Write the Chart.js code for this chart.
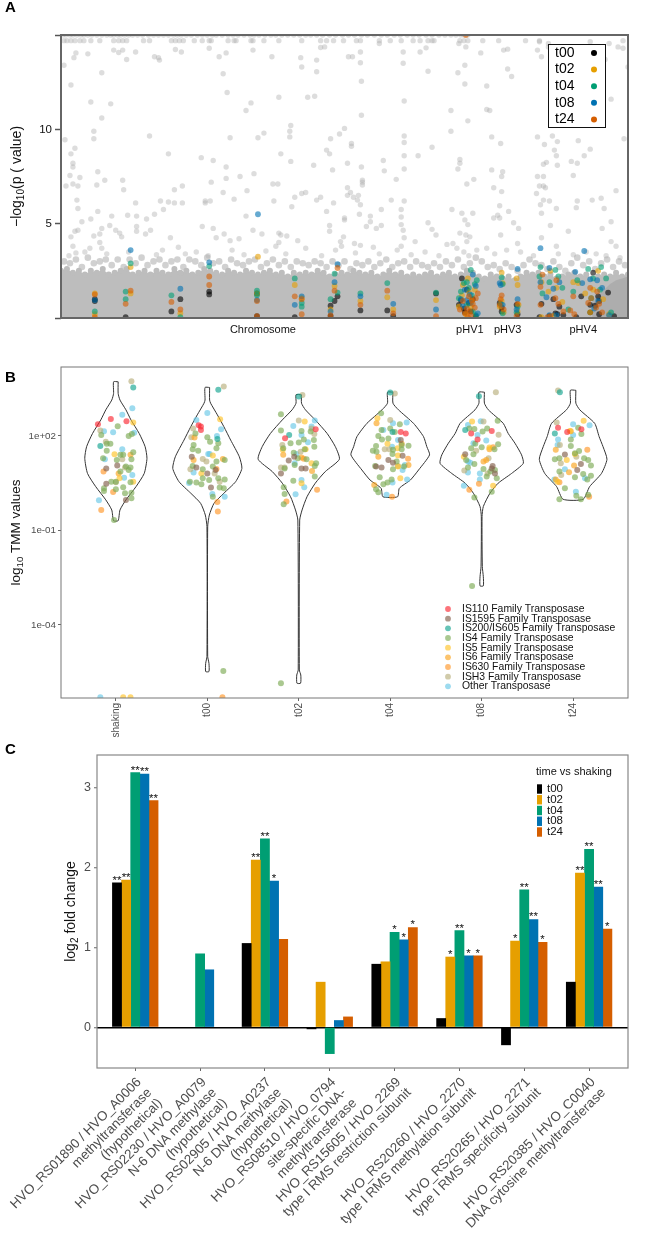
<!DOCTYPE html>
<html>
<head>
<meta charset="utf-8">
<script src="https://cdn.jsdelivr.net/npm/chart.js@4"></script>
<style>
  html, body { margin: 0; padding: 0; background: #fff; }
  canvas { position: absolute; left: 0; }
</style>
</head>
<body>
<canvas id="panelA" width="661" height="350" style="top:0px"></canvas>
<canvas id="panelB" width="661" height="390" style="top:350px"></canvas>
<canvas id="panelC" width="661" height="496" style="top:738px"></canvas>
<script>
// ---- data, panel A (position along replicons, -log10 p)
const timeLabels = ['t00', 't02', 't04', 't08', 't24'];
const timeColors = ['#000000', '#E69F00', '#009E73', '#0072B2', '#D55E00'];
const repliconTicks = [203, 411, 449, 525];
const repliconLabels = ['Chromosome', 'pHV1', 'pHV3', 'pHV4'];

const cappedX = [2,5,9,12,16,20,23,27,31,36,41,46,50,53,57,60,64,68,72,77,82,88,93,98,103,108,113,117,121,126,131,137,142,147,152,156,162,168,173,178,184,190,194,199,205,211,216,222,228,234,240,246,251,257,263,270,276,283,289,295,302,308,315,322,328,335,341,348,354,360,367,373,380,386,392,397,402,405,409];
const nearCapX = [3,6,10,14,19,23,30,39,53,58,62,66,83,89,111,115,119,123,134,142,149,151,168,174,176,191,193,204,219,242,261,267,274,284,297,301,320,331,342,354,361,369,373,375,401,405,409,424,481,565];
const highGrey = [[15,14.05],[27,14],[13,13.8],[53,14.2],[58,14.07],[62,14.2],[66,13.7],[75,14.1],[94,13.85],[99,13.67],[98,13.8],[115,14.23],[121,14.1],[149,14.3],[166,14.05],[159,13.85],[193,14.2],[212,13.85],[242,13.3],[241,13.8],[257,13.67],[257,13.05],[261,14.34],[265,14.37],[289,13.85],[293,13.85],[301,14.1],[301,13.53],[320,14.55],[344,14.1],[344,13.5],[361,14.1],[367,14.32],[369,13.08],[400,14.55],[407,14.37],[422,14.05],[445,14.2],[479,14.2],[483,13.85],[490,14.37],[490,14.55],[498,13.93],[507,13.85],[532,14.37],[540,14.2],[547,13.7],[560,14.37],[565,14.3],[570,13.3],[481,14.64],[519,14.2],[532,14.64],[551,14.55],
  [3,13.4],[10,12.35],[30,11.45],[50,11.35],[41,13],[41,10.6],[33,9.9],[33,9.5],[4,9.45],[14,9],[10,8.7],[12,8.2],[12,8],[37,7.75],[19,7.45],[9,7.55],[5,7],[12,7.1],[17,7],[36,7.05],[44,7.3],[62,7.3],[63,6.8],[16,6.25],[17,5.8],[75,6.1],[37,5.65],[21,5.1],[30,5.25],[51,5.4],[67,5.45],[76,5.4],[86,5.25],[94,5.5],[41,4.75],[17,4.65],[14,4.6],[39,4.45],[33,4.35],[10,4.3],[49,4.9],[55,4.65],[59,4.5],[61,4.3],[76,4.85],[76,4.6],[90,4.65],[85,4.45],[110,4.25],[39,4],[41,3.7],[12,3.8],[29,3.7],[15,3.45],
  [89,9.65],[108,8.7],[141,8.5],[153,8.35],[166,8],[166,7.4],[151,7.2],[180,7.5],[194,7.65],[114,6.8],[122,7],[100,6.2],[108,6.15],[114,6.1],[122,6.1],[103,5.75],[145,6.2],[150,6.2],[145,6.1],[163,6.65],[174,6.3],[187,6.75],[186,5.4],[142,4.85],[153,4.75],[164,4.45],[156,4.25],[170,4.1],[179,4.2],[193,4.65],[202,4.45],[219,4.5],[221,4.4],[227,4.35],[238,4.1],[219,4],[216,3.8],[214,6.2],[232,5.9],[235,6.4],[242,6.6],[246,6.65],[257,6.25],[261,6.4],[267,5.65],[274,6.1],[288,6.9],[291,6.65],[288,6.5],[294,6.4],[299,6.5],[298,6.25],[301,6],[303,7.3],[303,7.2],[303,7.05],[213,7.1],[218,7.1],[221,8.7],[231,8.3],[230,9.6],[230,9.9],[231,10.2],[219,11.7],[248,11.7],[255,11.75],[167,11.95],[191,11.4],[186,11],[163,12.95],[302,12.55],[302,10.75],[345,11.5],[285,10.05],[280,9.75],[271,9.5],[204,9.8],[198,9.55],[170,9.55],[292,9.25],[292,9.1],[267,8.9],[270,8.7],[273,7.85],[254,8.1],[288,8.2],[302,8],[324,8.35],[325,7.8],[337,7.35],[345,9.65],[345,9.3],[345,8.6],[345,7.9],[359,8.6],[373,9.05],[332,6.25],[345,6.2],[322,5.75],[342,5.75],[342,5.35],[311,5.4],[311,5.1],[285,5.3],[285,5.2],[270,4.9],[270,4.6],[284,4.3],[281,4.05],[300,5.5],[307,4.85],[317,4.75],[322,4.9],[342,4.95],[344,4.65],[345,4.25],[342,3.8],[356,4.05],[295,3.95],[301,3.85],[314,3.75],[282,3.8],[369,5.05],[373,4.7],[377,4.4],
  [392,11],[392,9.9],[409,10.45],[406,12.4],[406,13.4],[399,13],[428,12.3],[428,11.05],[431,11],[433,9.6],[442,9.25],[444,7.75],[433,7.85],[401,8.4],[401,8.2],[399,7.9],[408,7.1],[415,7.35],[393,5.75],[403,5.55],[414,5.55],[406,5.2],[409,4.95],[401,4.5],[407,4.4],[411,4.3],[408,4.05],[388,3.9],[394,3.95],[428,3.7],[443,7.5],[435,6.9],[443,6.7],[441,5.95],[439,5.45],[435,5.3],[441,5.3],[450,5.65],[455,5.05],[442,4.4],[460,4.75],[459,3.95],[449,13.2],[449,14.25],[440,14.7],[467,14.7],[453,12.8],
  [479,9.6],[486,9.2],[494,9.65],[499,9.35],[496,8.9],[498,8.6],[488,8.25],[485,8.15],[499,8.1],[513,8.3],[520,9.4],[532,8.95],[526,8.6],[515,7.55],[519,8.2],[553,11.6],[566,9.5],[558,6.75],[479,7.5],[485,7.5],[481,7],[485,7],[487,6.9],[478,6.6],[485,6.25],[491,6.2],[482,6],[498,5.8],[483,5.55],[492,4.9],[510,4.6],[519,6.2],[518,5.85],[534,6.25],[543,6.35],[546,5.8],[553,5.1],[544,4.75],[553,4.05],[558,3.8],[483,4.25],[498,3.8],
  [8,3.3],[24,3.5],[46,3.4],[68,3.5],[96,3.35],[102,3.6],[118,3.75],[125,3.4],[136,3.5],[148,3.3],[172,3.6],[184,3.35],[206,3.55],[226,3.4],[246,3.7],[262,3.3],[276,3.6],[296,3.45],[320,3.4],[338,3.6],[352,3.35],[366,3.5],[380,3.3],[398,3.7],[405,3.5],[410,3.3],[418,3.6],[436,3.4],[448,3.6],[462,3.5],[475,3.3],[500,3.4],[515,3.35],[528,3.5],[538,3.4],[548,3.3],[562,3.2]];

const bandStep = 6;
const bandTop = [2.5,2.6,2.4,2.5,2.3,2.5,2.4,2.6,2.3,2.4,2.5,2.6,2.3,2.4,2.5,2.3,2.5,2.4,2.3,2.6,2.4,2.5,2.3,2.4,2.6,2.5,2.4,2.3,2.5,2.4,2.3,2.5,2.4,2.3,2.4,2.5,2.3,2.4,2.2,2.4,2.3,2.4,2.3,2.5,2.4,2.2,2.3,2.4,2.3,2.5,2.4,2.3,2.4,2.2,2.3,2.5,2.3,2.4,2.2,2.3,2.2,2.3,2.4,2.2,2.3,2.4,2.2,2.3,2.5,2.4,2.2,2.1,2.3,2.2,2.1,2.2,2,2.2,2.4,2.3,2.4,2.2,2.3,2.1,2.2,2.3,2.4,2.2,2.3,2.1,2.2,2.3,2.2,2.4,2.2,2.3];
const bandEdge = [3.0,2.9,3.1,2.7,3.2,2.9,3.0,3.1,2.8,3.1,2.7,3.1,2.9,3.2,2.8,3.0,3.1,2.8,3.0,3.1,2.7,3.1,3.0,2.8,3.2,2.9,3.0,2.7,3.1,2.9,2.8,3.0,3.1,2.7,2.9,3.1,2.8,3.0,2.7,3.0,2.9,2.8,3.0,2.9,2.7,3.0,2.8,3.0,2.6,2.9,2.8,3.0,2.7,2.9,3.1,2.7,2.9,3.0,2.7,3.0,2.8,2.7,2.9,2.7,3.0,2.8,3.1,2.7,2.9,3.2,3.0,2.7,2.8,2.6,2.9,2.7,2.5,2.8,3.1,2.9,2.8,2.6,3.0,2.7,2.5,2.9,3.2,2.8,3.0,2.6,2.9,3.1,2.7,3.0,2.8,2.7];
const bandDarkX = [534, 540, 546, 552, 558, 564, 570];
const bandDarkTop = [.9, 1.2, 1.5, 1.8, 2, 2.1, 2.2];

const t00Points = [[34,1],[34,.9],[65,.05],[111,.35],[120,1],[149,1.4],[149,1.25],[197,1.3],[197,.1],[235,.05],[271,.65],[275,.9],[278,1.15],[271,.1],[301,.4],[328,.4],[334,.1],[377,1.3],
  [403,2.1],[408,1.5],[400,.7],[405,.5],[412,.35],[406,.3],[414,1],[410,.8],[417,.1],[402,.95],[441,.8],[443,.55],[458,.7],[459,.2],[443,.35],[483,.75],[481,.05],[491,.1],[495,1],[497,.25],[499,.2],[501,.6],[505,.15],[518,.05],[523,1.15],[532,.7],[535,2.4],[532,.3],[537,.65],[541,.9],[541,.2],[550,1.35],[556,.1],[540,1.15]];
const t02Points = [[34,1.3],[34,.2],[70,2.7],[70,1.3],[120,.25],[198,3.25],[197,1.3],[235,1.75],[242,1.05],[275,1.7],[271,.45],[301,.9],[328,1.1],[334,.45],[377,.95],
  [409,2.1],[404,1.75],[410,1.4],[413,.9],[400,.6],[407,.2],[416,1.5],[403,1.2],[412,.6],[443,2.4],[444,1.85],[443,.9],[441,.6],[445,.3],[458,2.1],[459,1.75],[459,.35],[460,.7],[483,1.9],[490,1.4],[492,2.5],[498,1.6],[504,.85],[515,1.9],[520,1.85],[527,1.3],[535,1.5],[540,2.5],[545,1],[532,.3],[495,.1],[483,.05],[551,.2]];
const t04Points = [[34,.35],[65,1.4],[65,1],[70,2.9],[111,1.2],[120,.05],[149,2.75],[197,1.45],[197,1.2],[235,2.1],[242,.8],[242,.6],[275,2.35],[278,1.35],[271,1],[301,1.3],[328,1.85],[377,1.35],
  [412,2.55],[408,1.9],[405,1.85],[416,1.8],[402,1.4],[410,1.6],[413,1.2],[400,1.05],[408,.7],[414,.35],[418,2],[417,.15],[443,2.15],[444,1.8],[442,.75],[444,.25],[459,.6],[458,.3],[482,2.7],[481,2.2],[484,1.3],[491,1.9],[497,2.55],[500,2.2],[504,1.6],[510,.45],[515,1.4],[519,2],[530,2.6],[535,2.1],[543,2.7],[548,2.1],[553,.3],[542,1.5],[533,1.05]];
const t08Points = [[34,.95],[70,3.6],[120,1.55],[149,2.95],[198,5.5],[197,.95],[235,.7],[242,1.15],[278,2.85],[275,1.9],[271,.35],[301,1.15],[334,.75],[377,.45],
  [414,2.3],[406,1.5],[411,1.25],[417,1.7],[402,1],[408,.95],[412,.8],[419,.25],[404,.65],[442,1.75],[441,1.85],[444,.7],[459,2.6],[459,1],[458,.45],[482,3.7],[491,2.65],[482,1.9],[488,1.1],[495,1.55],[501,1.9],[498,.15],[517,2.45],[524,1.85],[526,3.55],[532,2.05],[539,2],[544,1.6],[540,.9],[491,.15],[536,.5],[551,.15]];
const t24Points = [[34,1.25],[34,.05],[65,.75],[70,1.45],[111,.85],[120,.45],[149,2.2],[149,1.75],[197,.9],[197,.1],[235,1.15],[242,1],[242,.2],[278,2.65],[275,1.45],[271,.15],[301,.7],[328,1.45],[334,.25],[377,.1],[407,15],
  [410,1.15],[414,.75],[408,.5],[417,1.05],[401,.45],[406,.25],[412,.15],[404,.9],[416,.55],[419,1.3],[411,.35],[409,.05],[413,.95],[443,1.2],[442,1],[441,.7],[445,.45],[459,.75],[458,.1],[482,.7],[482,1.65],[484,2.3],[489,.05],[492,.1],[497,1.05],[500,.75],[505,.35],[498,2],[512,.4],[516,.2],[532,1.6],[533,1.05],[538,.55],[541,.75],[544,.3],[530,.8],[515,1.15],[539,1.4]];
const timePoints = [t00Points, t02Points, t04Points, t08Points, t24Points];

// ---- data, panel B (log10 TMM)
const conditions = ['shaking', 't00', 't02', 't04', 't08', 't24'];
const tmmTickValues = [100, 0.1, 0.0001];
const tmmTickLabels = ['1e+02', '1e-01', '1e-04'];

const violinLevels = [
  [3.72,3.35,3.14,2.83,2.51,2.08,1.66,1.29,.81,.39,-.03,-.35,-.69],
  [3.54,3.14,3.04,2.67,2.3,1.87,1.34,.97,.55,.18,-.14,-.51,-.88,-5,-5.22,-5.48],
  [3.31,3.04,2.83,2.51,2.08,1.66,1.26,.87,.5,.07,-.35,-.67,-5.43,-5.59,-5.85],
  [3.39,3.04,2.83,2.4,1.98,1.66,1.4,.92,.6,.34,.07],
  [3.39,3.04,2.83,2.4,2.08,1.77,1.4,1.13,.81,.5,.18,-.24,-.56,-2.15,-2.47,-2.76],
  [3.45,3.04,2.83,2.4,1.98,1.66,1.26,.81,.39,-.01]
];
const violinWidths = [
  [.025,.025,.045,.11,.165,.255,.32,.34,.31,.22,.11,.045,.025],
  [.025,.025,.036,.11,.18,.255,.35,.378,.31,.18,.073,.022,.004,.004,.018,.018],
  [.03,.03,.073,.18,.31,.4,.444,.29,.18,.09,.036,.01,.006,.022,.02],
  [.03,.03,.09,.255,.364,.4,.43,.31,.22,.1,.08],
  [.03,.03,.073,.236,.29,.364,.436,.455,.327,.18,.09,.018,.004,.007,.018,.018],
  [.03,.03,.073,.236,.284,.327,.37,.31,.18,.11]
];

// each family: one list per condition, [jitter, log10 TMM]
const is110 = [
  [[-.196,2.37],[-.055,2.54],[.116,2.47]],
  [[-.095,2.34],[-.07,2.3],[-.07,2.19]],
  [[-.15,1.93],[.185,2.21]],
  [[.115,2.13],[.17,2.08]],
  [[-.045,1.89],[.11,2.16],[-.115,2.08]],
  [[-.165,2.26],[-.065,2.13],[.09,2.21]]
];
const is1595 = [
  [[-.105,.97],[.015,1.06],[.11,-.03],[-.105,.48]],
  [[-.17,1.34],[-.12,1],[0,.81],[.04,.36],[.09,.92]],
  [[-.195,.81],[-.11,1.22],[-.05,1.34],[.03,.97],[.075,.97]],
  [[-.155,1.03],[-.02,1.24],[.03,1.15],[.115,1.87],[.135,1.37],[-.095,1]],
  [[-.18,1.42],[.12,1.05],[.11,.97],[.145,.81]],
  [[-.09,1.41],[.045,.92],[.085,1.11]]
];
const is200 = [
  [[.19,3.54],[-.17,1.68]],
  [[.12,3.47],[.11,1.9]],
  [[0,3.25],[-.105,2.03]],
  [[0,3.38],[.025,2.13]],
  [[-.03,3.26],[-.18,2.19]],
  [[-.145,3.39],[-.2,2.08]]
];
const is4 = [
  [[-.02,-.67],[.02,2.31],[-.16,2.03],[.14,2],[.175,2.06],[-.1,1.75],[-.06,1.75],[-.1,1.53],[-.14,1.29],[.01,1.24],[.05,1.4],[.08,1.4],[.17,1.26],[.19,1.48],[.16,1],[.11,1.03],[.14,.92],[.05,.87],[-.05,.55],[0,.55],[-.13,.34],[-.13,.25],[0,.31],[.08,.37],[.1,.18],[.17,.2],[.17,.02],[.16,.53]],
  [[.175,-5.46],[-.13,2.08],[0,1.96],[.03,1.82],[.12,1.77],[.1,1.61],[-.15,1.71],[-.16,1.58],[-.1,1.53],[.1,1.19],[.19,1.24],[-.16,1.05],[-.05,.94],[.06,1.03],[-.05,.66],[.02,.6],[.12,.66],[.19,.62],[-.19,.55],[-.12,.52],[-.065,.47],[.135,.36],[.18,.34],[.06,.07]],
  [[-.195,2.69],[-.195,2.17],[.03,2.16],[.13,2.14],[-.09,1.77],[0,1.79],[.055,1.89],[.165,1.87],[-.17,1.61],[.17,1.66],[.065,1.58],[-.055,1.47],[-.01,1.29],[.085,1.26],[-.045,1.08],[.19,1.13],[.175,1.05],[-.155,.97],[.175,.71],[-.06,.58],[-.165,.37],[-.155,.16],[-.165,-.17],[-.195,-5.85]],
  [[-.1,2.72],[.105,2.37],[0,2.24],[-.095,2.19],[.05,2.13],[-.13,2],[-.02,1.92],[-.09,1.89],[-.155,1.68],[-.19,1.53],[-.15,1.5],[.2,1.69],[.125,1.58],[.03,1.56],[.025,1.43],[.07,1.19],[-.165,1.05],[.03,.94],[.15,1.03],[-.115,.69],[.015,.62],[-.03,.52],[-.075,.47],[-.155,.31],[-.13,.21],[.125,1.71]],
  [[-.105,-2.76],[.175,2.48],[-.135,2.24],[-.08,2.22],[.01,2.14],[.06,2.24],[-.07,1.75],[-.115,1.61],[0,1.64],[.18,1.74],[.14,1.58],[-.09,1.42],[-.17,1.24],[-.08,1.11],[-.15,1],[.02,.95],[.095,.87],[.145,.92],[.055,.71],[.165,.66],[.11,.23],[-.08,.05]],
  [[-.025,1.89],[.09,2.06],[.055,2.26],[-.025,1.68],[.065,1.52],[.02,1.45],[.12,1.29],[-.2,1.26],[-.15,1.29],[.165,1.24],[.195,1.06],[-.15,.87],[.02,.69],[.11,.79],[.195,.74],[.155,.62],[-.09,.34],[-.15,-.01],[.035,.1],[.085,-.01],[.165,.13]]
];
const is5 = [
  [[.19,2.43],[-.015,1.42],[.04,.66],[.19,.55],[.08,-6.3],[.16,-6.3]],
  [[.14,2.53],[.06,1.38],[-.065,.81]],
  [[.065,2.46],[-.175,1.56],[.14,1.13],[.03,.5],[.075,1.58]],
  [[-.14,2.56],[-.03,1.75],[.08,1.61],[.085,1.38],[.085,1.03],[.11,.66]],
  [[-.105,2.46],[-.195,1.34],[.125,.42],[.085,1.63]],
  [[.115,2.48],[-.035,2.16],[-.07,1.24],[.02,1.43],[-.17,.55]]
];
const is6 = [
  [[.16,1.4],[.03,.81]],
  [[-.14,1.95],[-.15,1.24],[.17,1.27]],
  [[.03,1.32],[-.17,1.4],[.145,.89]],
  [[-.15,2.4],[-.13,1.34],[.125,1.75],[.2,1.08],[-.175,.44]],
  [[.085,1.58],[.05,1.24],[.02,1.19]],
  [[-.025,2.15],[-.19,1.56],[.01,1.06],[-.045,.85],[-.19,.62]]
];
const is630 = [
  [[-.135,.87],[-.03,.22],[-.16,-.35]],
  [[.1,.95],[.11,-.1],[.115,-.4],[.165,-6.3]],
  [[.2,.29],[-.135,-.08],[.055,1.28]],
  [[.195,1.28],[.02,.07]],
  [[-.03,.48],[-.135,.29],[.125,1.64]],
  [[.155,1.56],[.175,.07],[-.15,.53]]
];
const ish3 = [
  [[.17,3.74],[-.11,1.82],[-.17,2.17],[.07,1.26],[.1,1],[0,.53]],
  [[.18,3.57],[-.155,2.24],[-.175,1.96],[-.05,1.27],[-.01,1.19],[-.185,.94],[.08,.81],[.135,.55]],
  [[.04,3.3],[0,2.49],[-.18,1.71],[-.195,1],[-.155,1],[.02,1.5],[.14,2.24],[.17,2.06]],
  [[.05,3.35],[0,2.51],[-.06,1.58],[-.01,1.58],[.085,1.05]],
  [[.155,3.39],[.02,2.46],[.185,2.04],[-.19,.9],[-.06,1.53],[.075,1.29],[.065,.81]],
  [[-.165,3.44],[-.18,2.43],[-.145,1.71],[-.135,1.13],[-.13,.76],[.035,1.34]]
];
const otherTransposase = [
  [[.07,2.67],[.18,2.88],[-.13,2.15],[-.03,2.12],[.2,2.1],[-.12,1.26],[.07,1.58],[.09,.67],[.18,.76],[-.185,-.04],[-.17,-6.3]],
  [[0,2.73],[-.12,2.51],[.15,2.21],[.105,2],[.01,1.43],[.025,1.43],[-.15,.84],[-.2,.51],[.055,.16],[.19,.07]],
  [[.175,2.49],[-.06,2.32],[.14,2.3],[.03,2.03],[.1,1.8],[-.045,1.13],[-.025,1.43],[.03,.6],[-.035,.15],[.06,.37]],
  [[.18,2.43],[.03,2.4],[-.075,2.19],[.085,1.87],[.02,1.66],[.135,.92],[.16,1.08],[.185,.62],[.025,.52],[-.04,.13]],
  [[-.15,2.35],[-.01,2.47],[-.045,2.03],[.05,1.86],[-.09,1.77],[-.15,1.19],[-.125,1.15],[-.15,.84],[-.02,.81],[-.02,.62],[-.195,.42]],
  [[0,2.37],[.18,2.34],[0,2.03],[-.165,1.89],[-.17,1.71],[-.09,.94],[-.205,.62],[.13,.66],[.03,.23]]
];
const familyNames = ['IS110 Family Transposase','IS1595 Family Transposase','IS200/IS605 Family Transposase','IS4 Family Transposase','IS5 Family Transposase','IS6 Family Transposase','IS630 Family Transposase','ISH3 Family Transposase','Other Transposase'];
const familyColors = ['rgba(250,40,50,.65)','rgba(130,95,75,.65)','rgba(20,165,145,.65)','rgba(125,170,85,.65)','rgba(255,195,40,.65)','rgba(250,165,30,.65)','rgba(255,150,40,.65)','rgba(185,175,125,.65)','rgba(105,200,230,.65)'];
const familyPoints = [is110, is1595, is200, is4, is5, is6, is630, ish3, otherTransposase];

// ---- data, panel C (log2 fold change, time vs shaking)
const geneLabels = [
  ['HVO_RS01890 / HVO_A0006', 'methyltransferase', '(hypothetical)'],
  ['HVO_RS02230 / HVO_A0079', 'N-6 DNA methylase', '(hypothetical)'],
  ['HVO_RS02905 / HVO_A0237', 'N-6 DNA methylase', '(hypothetical)'],
  ['HVO_RS08510 / HVO_0794', 'site-specific DNA-', 'methyltransferase'],
  ['HVO_RS15605 / HVO_2269', 'type I RMS restriction subunit'],
  ['HVO_RS20260 / HVO_2270', 'type I RMS methylation subunit'],
  ['HVO_RS20265 / HVO_2271', 'type I RMS specificity subunit'],
  ['HVO_RS20385 / HVO_C0040', 'DNA cytosine methyltransferase']
];
const foldT00 = [1.81, null, 1.05, -.02, .79, .11, -.22, .565];
const foldT02 = [1.845, null, 2.095, .565, .82, .88, 1.08, 1.93];
const foldT04 = [3.19, .92, 2.36, -.33, 1.19, 1.21, 1.72, 2.23];
const foldT08 = [3.17, .72, 1.83, .085, 1.095, .895, 1.35, 1.755];
const foldT24 = [2.84, null, 1.1, .13, 1.25, .895, 1.065, 1.23];
const foldSeries = [foldT00, foldT02, foldT04, foldT08, foldT24];
const starsT00 = ['**', '', '', '', '', '', '', ''];
const starsT02 = ['**', '', '**', '', '', '*', '*', '**'];
const starsT04 = ['**', '', '**', '', '*', '**', '**', '**'];
const starsT08 = ['**', '', '*', '', '*', '*', '**', '**'];
const starsT24 = ['**', '', '', '', '*', '*', '*', '*'];
const foldStars = [starsT00, starsT02, starsT04, starsT08, starsT24];

// ---- shared
const sansFont = '"Liberation Sans", Arial, sans-serif';
Chart.defaults.font.family = sansFont;
Chart.defaults.animation = false;
Chart.defaults.devicePixelRatio = 1;
Chart.defaults.responsive = false;
Chart.defaults.plugins.legend.display = false;
Chart.defaults.plugins.tooltip.enabled = false;

// frame, panel letter and the y title (its subscript needs a smaller font)
const frameAndLetter = {
  id: 'frameAndLetter',
  afterDatasetsDraw(chart, args, o) {
    const { ctx, chartArea: a } = chart;
    ctx.save();
    ctx.strokeStyle = o.color;
    ctx.lineWidth = o.width;
    ctx.strokeRect(a.left, a.top, a.right - a.left, a.bottom - a.top);
    ctx.fillStyle = '#000';
    ctx.font = 'bold 15px ' + sansFont;
    ctx.textBaseline = 'middle';
    ctx.textAlign = 'left';
    ctx.fillText(o.letter, 5, o.letterY);

    ctx.translate(o.titleX, (a.top + a.bottom) / 2);
    ctx.rotate(-Math.PI / 2);
    ctx.textBaseline = 'alphabetic';
    ctx.fillStyle = '#111';
    const fontFor = part => (part.sub ? o.titleSize * .72 : o.titleSize) + 'px ' + sansFont;
    let total = 0;
    o.title.forEach(part => { ctx.font = fontFor(part); total += ctx.measureText(part.text).width; });
    let x = -total / 2;
    o.title.forEach(part => {
      ctx.font = fontFor(part);
      ctx.fillText(part.text, x, part.sub ? 3 : 0);
      x += ctx.measureText(part.text).width;
    });
    ctx.restore();
  }
};

function toPoints(pairs) {
  return pairs.map(p => ({ x: p[0], y: p[1] }));
}

// ---- panel A
const legendA = {
  id: 'legendA',
  afterDraw(chart) {
    const { ctx } = chart;
    ctx.save();
    ctx.fillStyle = '#fff';
    ctx.strokeStyle = '#111';
    ctx.lineWidth = 1;
    ctx.fillRect(548, 44, 57, 83);
    ctx.strokeRect(548.5, 44.5, 57, 83);
    ctx.font = '14px ' + sansFont;
    ctx.textBaseline = 'middle';
    timeLabels.forEach((label, i) => {
      const y = 53 + i * 16.6;
      ctx.fillStyle = '#000';
      ctx.fillText(label, 555, y);
      ctx.fillStyle = timeColors[i];
      ctx.beginPath();
      ctx.arc(594, y, 3, 0, Math.PI * 2);
      ctx.fill();
    });
    ctx.restore();
  }
};

const lightGrey = 'rgba(175,175,175,.42)';
new Chart(document.getElementById('panelA'), {
  type: 'scatter',
  data: {
    datasets: timeLabels.map((label, i) => ({
      label,
      data: toPoints(timePoints[i]),
      backgroundColor: timeColors[i] + '99',
      borderWidth: 0,
      pointRadius: 2.9
    })).reverse().concat([
      { data: cappedX.map(x => ({ x, y: 15 })), backgroundColor: lightGrey, pointRadius: 2.7, borderWidth: 0 },
      { data: nearCapX.map(x => ({ x, y: 14.7 })), backgroundColor: lightGrey, pointRadius: 2.7, borderWidth: 0 },
      { data: toPoints(highGrey), backgroundColor: lightGrey, pointRadius: 2.7, borderWidth: 0 },
      { data: bandEdge.map((y, i) => ({ x: i * bandStep + 3, y })), backgroundColor: 'rgba(190,190,190,.7)', pointRadius: 3.3, borderWidth: 0 },
      {
        data: bandDarkTop.map((y, i) => ({ x: bandDarkX[i], y })),
        showLine: true, fill: 'origin', backgroundColor: '#adadad', borderWidth: 0, pointRadius: 0, tension: 0
      },
      {
        data: bandTop.map((y, i) => ({ x: i * bandStep, y })),
        showLine: true, fill: 'origin', backgroundColor: '#bdbdbd', borderColor: '#bdbdbd',
        borderWidth: 0, pointRadius: 3, pointBackgroundColor: '#bdbdbd', tension: 0
      }
    ])
  },
  options: {
    layout: { padding: { top: 35, right: 33, left: 0, bottom: 0 } },
    scales: {
      x: {
        type: 'linear', min: 0, max: 570,
        grid: { display: false, drawTicks: false }, border: { display: false },
        afterBuildTicks: s => { s.ticks = repliconTicks.map(value => ({ value })); },
        afterFit: s => { s.height = 32; s.paddingLeft = 0; s.paddingRight = 0; },
        ticks: {
          autoSkip: false, maxRotation: 0, minRotation: 0, padding: 5, color: '#111',
          font: { size: 11 },
          callback: (v, i) => repliconLabels[i]
        }
      },
      y: {
        min: 0, max: 15,
        border: { display: false },
        grid: { drawOnChartArea: false, tickColor: '#555', tickLength: 6, tickWidth: 1.5 },
        afterFit: s => { s.width = 61; },
        ticks: {
          stepSize: 5, padding: 3, color: '#111', font: { size: 11.5 },
          callback: v => (v === 5 || v === 10) ? String(v) : ''
        }
      }
    },
    plugins: {
      frameAndLetter: {
        color: '#666', width: 2, letter: 'A', letterY: 8, titleX: 21, titleSize: 14,
        title: [{ text: '−log' }, { text: '10', sub: true }, { text: '(p ( value)' }]
      }
    }
  },
  plugins: [frameAndLetter, legendA]
});

// ---- panel B
const legendB = {
  id: 'legendB',
  afterDraw(chart) {
    const { ctx } = chart;
    ctx.save();
    ctx.font = '10.4px ' + sansFont;
    ctx.textBaseline = 'middle';
    familyNames.forEach((name, i) => {
      const y = 259 + i * 9.67;
      ctx.fillStyle = familyColors[i];
      ctx.beginPath();
      ctx.arc(448, y, 2.9, 0, Math.PI * 2);
      ctx.fill();
      ctx.fillStyle = '#111';
      ctx.fillText(name, 462, y);
    });
    ctx.restore();
  }
};

function violinOutline(levels, widths, pos) {
  const right = levels.map((v, i) => ({ x: pos + widths[i], y: Math.pow(10, v) }));
  const left = levels.map((v, i) => ({ x: pos - widths[i], y: Math.pow(10, v) })).reverse();
  return right.concat(left, [right[0]]);
}

new Chart(document.getElementById('panelB'), {
  type: 'scatter',
  data: {
    datasets: familyNames.map((name, f) => ({
      label: name,
      data: familyPoints[f].flatMap((list, c) => list.map(p => ({ x: c + p[0], y: Math.pow(10, p[1]) }))),
      backgroundColor: familyColors[f],
      borderWidth: 0,
      pointRadius: 3
    })).concat(conditions.map((name, c) => ({
      label: name,
      data: violinOutline(violinLevels[c], violinWidths[c], c),
      showLine: true, fill: false, borderColor: '#333', borderWidth: 1, pointRadius: 0, tension: .2
    })))
  },
  options: {
    layout: { padding: { top: 17, right: 33, left: 0, bottom: 0 } },
    scales: {
      x: {
        type: 'linear', min: -.6, max: 5.6,
        border: { display: false },
        grid: { drawOnChartArea: false, tickColor: '#666', tickLength: 3 },
        afterBuildTicks: s => { s.ticks = conditions.map((n, i) => ({ value: i })); },
        afterFit: s => { s.height = 42; s.paddingLeft = 0; s.paddingRight = 0; },
        ticks: {
          autoSkip: false, minRotation: 90, maxRotation: 90, padding: 2, color: '#4d4d4d',
          font: { size: 10 },
          callback: (v, i) => conditions[i]
        }
      },
      y: {
        type: 'logarithmic',
        min: Math.pow(10, -6.32), max: Math.pow(10, 4.19),
        border: { display: false },
        grid: { drawOnChartArea: false, tickColor: '#666', tickLength: 3 },
        afterBuildTicks: s => { s.ticks = tmmTickValues.map(value => ({ value })); },
        afterFit: s => { s.width = 61; },
        ticks: {
          autoSkip: false, padding: 2, color: '#4d4d4d', font: { size: 9.8 },
          callback: (v, i) => tmmTickLabels[i]
        }
      }
    },
    plugins: {
      frameAndLetter: {
        color: '#777', width: 1, letter: 'B', letterY: 28, titleX: 20, titleSize: 13.5,
        title: [{ text: 'log' }, { text: '10', sub: true }, { text: ' TMM values' }]
      }
    }
  },
  plugins: [frameAndLetter, legendB]
});

// ---- panel C
const starsAndLegend = {
  id: 'starsAndLegend',
  afterDatasetsDraw(chart) {
    const { ctx } = chart;
    ctx.save();
    ctx.fillStyle = '#111';
    ctx.font = '11.5px ' + sansFont;
    ctx.textAlign = 'center';
    ctx.textBaseline = 'alphabetic';
    foldStars.forEach((stars, s) => {
      chart.getDatasetMeta(s).data.forEach((bar, i) => {
        if (stars[i]) ctx.fillText(stars[i], bar.x, bar.y + 1);
      });
    });
    ctx.textAlign = 'left';
    ctx.textBaseline = 'middle';
    ctx.font = '11px ' + sansFont;
    ctx.fillText('time vs shaking', 536, 34);
    ctx.font = '11.5px ' + sansFont;
    timeLabels.forEach((label, i) => {
      const y = 51 + i * 10.75;
      ctx.fillStyle = timeColors[i];
      ctx.fillRect(537, y - 4.7, 5, 9.4);
      ctx.fillStyle = '#111';
      ctx.fillText(label, 547, y);
    });
    ctx.restore();
  }
};

new Chart(document.getElementById('panelC'), {
  type: 'bar',
  data: {
    datasets: timeLabels.map((label, s) => ({
      label,
      data: foldSeries[s].map((y, x) => ({ x, y })),
      backgroundColor: timeColors[s],
      barThickness: 9.13
    }))
  },
  options: {
    layout: { padding: { top: 17, right: 33, left: 0, bottom: 0 } },
    scales: {
      x: {
        type: 'linear', min: -.59, max: 7.6, offset: false,
        border: { display: false },
        grid: { drawOnChartArea: false, offset: false, tickColor: '#666', tickLength: 3 },
        afterBuildTicks: s => { s.ticks = geneLabels.map((n, i) => ({ value: i })); },
        afterFit: s => { s.height = 166; s.paddingLeft = 0; s.paddingRight = 0; },
        ticks: {
          autoSkip: false, minRotation: 45, maxRotation: 45, padding: 4, labelOffset: 4, color: '#4d4d4d',
          font: { size: 13.4, lineHeight: 1.1 },
          callback: (v, i) => geneLabels[i]
        }
      },
      y: {
        min: -.51, max: 3.41,
        border: { display: false },
        grid: {
          color: c => c.tick.value === 0 ? '#000' : 'transparent',
          lineWidth: 1.5, tickColor: '#666', tickLength: 3, tickWidth: 1
        },
        afterFit: s => { s.width = 97; },
        ticks: {
          stepSize: 1, includeBounds: false, padding: 3, color: '#4d4d4d', font: { size: 12.5 }
        }
      }
    },
    plugins: {
      frameAndLetter: {
        color: '#888', width: 1.2, letter: 'C', letterY: 12, titleX: 75, titleSize: 14,
        title: [{ text: 'log' }, { text: '2', sub: true }, { text: ' fold change' }]
      }
    }
  },
  plugins: [frameAndLetter, starsAndLegend]
});
</script>
</body>
</html>
